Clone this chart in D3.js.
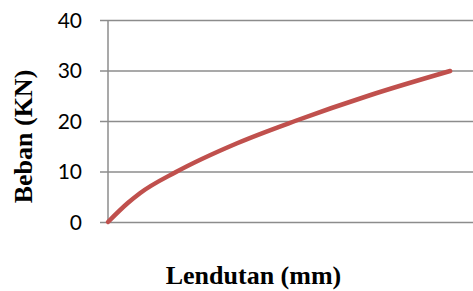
<!DOCTYPE html>
<html>
<head>
<meta charset="utf-8">
<script src="https://cdn.jsdelivr.net/npm/d3@7"></script>
<style>
  body { margin: 0; background: #fff; }
</style>
</head>
<body>
<div id="chart"></div>
<script>
// lendutan (mm) vs beban (kN)
const lendutan = [0, 0.44, 0.70, 1.49, 2.83, 4.10, 5.74, 7.50];
const beban    = [0, 3.8, 5.7, 9.9, 15.6, 20.0, 25.1, 29.9];
const yTicks   = [0, 10, 20, 30, 40];

const width = 473, height = 291;

const svg = d3.select('#chart')
    .append('svg')
    .attr('width', width)
    .attr('height', height);

const x = d3.scaleLinear()
    .domain([0, 8])
    .range([108, 473]);

const y = d3.scaleLinear()
    .domain([0, 40])
    .range([222, 20]);

// gridlines + ticks
const yAxis = svg.append('g')
    .attr('transform', `translate(${x(0)},0)`)
    .call(d3.axisLeft(y)
        .tickValues(yTicks)
        .tickSize(-(x.range()[1] - x(0)))
        .tickSizeOuter(0)
        .tickPadding(0))
    .call(g => g.select('.domain').remove());

yAxis.selectAll('.tick line')
    .attr('x1', -8)
    .attr('stroke', '#8c8c8c')
    .attr('stroke-width', 1.5);

yAxis.selectAll('.tick text')
    .attr('x', -26)
    .attr('dy', '0.34em')
    .style('font-family', 'Lato, "Open Sans", sans-serif')
    .style('font-size', '21px')
    .attr('fill', '#000');

// vertical axis line
svg.append('line')
    .attr('x1', x(0)).attr('x2', x(0))
    .attr('y1', y(40)).attr('y2', y(0))
    .attr('stroke', '#8c8c8c')
    .attr('stroke-width', 1.5);

// curve
const line = d3.line()
    .x((d, i) => x(lendutan[i]))
    .y(d => y(d))
    .curve(d3.curveMonotoneX);

svg.append('path')
    .datum(beban)
    .attr('d', line)
    .attr('fill', 'none')
    .attr('stroke', '#c0504d')
    .attr('stroke-width', 4.5)
    .attr('stroke-linecap', 'round')
    .attr('stroke-linejoin', 'round');

// titles
svg.append('text')
    .attr('x', 253.5)
    .attr('y', 284)
    .attr('text-anchor', 'middle')
    .style('font-family', '"Liberation Serif", "Times New Roman", serif')
    .style('font-weight', 'bold')
    .style('font-size', '26px')
    .text('Lendutan (mm)');

svg.append('text')
    .attr('transform', 'translate(32,136.5) rotate(-90)')
    .attr('text-anchor', 'middle')
    .style('font-family', '"Liberation Serif", "Times New Roman", serif')
    .style('font-weight', 'bold')
    .style('font-size', '26px')
    .text('Beban (KN)');
</script>
</body>
</html>
